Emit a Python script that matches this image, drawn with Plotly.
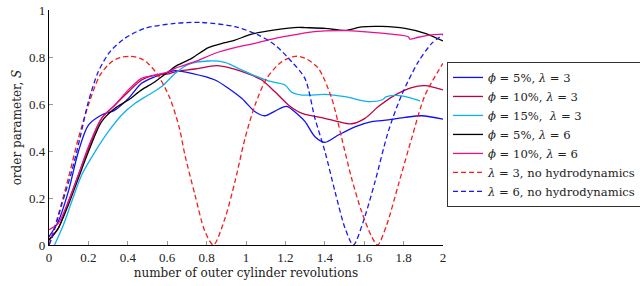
import plotly.graph_objects as go

# phi=5%, lambda=3
x_b3 = [0.0, 0.047, 0.098, 0.149, 0.2, 0.267, 0.335, 0.403, 0.47, 0.538, 0.606, 0.64, 0.724, 0.843, 0.91, 0.978, 1.046, 1.096, 1.147, 1.206, 1.266, 1.3, 1.35, 1.401, 1.469, 1.553, 1.638, 1.722, 1.807, 1.892, 2.0]
y_b3 = [0.035, 0.1, 0.227, 0.397, 0.51, 0.553, 0.574, 0.624, 0.688, 0.716, 0.735, 0.742, 0.73, 0.702, 0.667, 0.624, 0.567, 0.55, 0.57, 0.59, 0.553, 0.525, 0.461, 0.437, 0.468, 0.503, 0.525, 0.532, 0.543, 0.55, 0.536]

# phi=10%, lambda=3
x_c3 = [0.0, 0.047, 0.098, 0.149, 0.2, 0.267, 0.335, 0.403, 0.47, 0.538, 0.606, 0.64, 0.741, 0.851, 0.927, 1.012, 1.08, 1.147, 1.215, 1.266, 1.3, 1.384, 1.469, 1.536, 1.604, 1.672, 1.756, 1.841, 1.909, 2.0]
y_c3 = [0.025, 0.071, 0.184, 0.298, 0.411, 0.539, 0.596, 0.652, 0.702, 0.723, 0.728, 0.737, 0.749, 0.763, 0.752, 0.728, 0.702, 0.652, 0.596, 0.567, 0.556, 0.542, 0.525, 0.516, 0.539, 0.589, 0.638, 0.67, 0.678, 0.66]

# phi=15%, lambda=3
x_s3 = [0.028, 0.073, 0.115, 0.166, 0.234, 0.301, 0.369, 0.437, 0.504, 0.572, 0.64, 0.707, 0.809, 0.893, 0.978, 1.046, 1.113, 1.198, 1.232, 1.283, 1.325, 1.401, 1.503, 1.621, 1.689, 1.714, 1.79, 1.883]
y_s3 = [0.0, 0.085, 0.184, 0.298, 0.397, 0.482, 0.553, 0.603, 0.638, 0.674, 0.73, 0.769, 0.783, 0.777, 0.745, 0.72, 0.698, 0.681, 0.65, 0.638, 0.638, 0.641, 0.631, 0.61, 0.617, 0.631, 0.635, 0.613]

# phi=5%, lambda=6
x_k6 = [0.0, 0.047, 0.098, 0.149, 0.2, 0.267, 0.335, 0.403, 0.47, 0.538, 0.606, 0.64, 0.724, 0.809, 0.893, 0.944, 1.029, 1.147, 1.266, 1.3, 1.401, 1.503, 1.587, 1.689, 1.807, 1.909, 2.0]
y_k6 = [0.02, 0.071, 0.17, 0.284, 0.397, 0.525, 0.582, 0.617, 0.66, 0.695, 0.737, 0.759, 0.794, 0.84, 0.861, 0.872, 0.897, 0.915, 0.926, 0.925, 0.922, 0.913, 0.928, 0.93, 0.922, 0.901, 0.868]

# phi=10%, lambda=6
x_m6 = [0.0, 0.047, 0.098, 0.149, 0.2, 0.267, 0.335, 0.403, 0.47, 0.538, 0.606, 0.64, 0.741, 0.843, 0.944, 1.046, 1.164, 1.266, 1.3, 1.401, 1.52, 1.638, 1.74, 1.824, 1.832, 1.875, 1.943, 2.0]
y_m6 = [0.065, 0.092, 0.184, 0.298, 0.418, 0.539, 0.596, 0.66, 0.709, 0.723, 0.737, 0.752, 0.78, 0.816, 0.84, 0.858, 0.882, 0.897, 0.903, 0.911, 0.912, 0.905, 0.897, 0.886, 0.876, 0.884, 0.894, 0.897]

# lambda=3, no hydrodynamics
x_r3 = [0.0, 0.047, 0.098, 0.149, 0.2, 0.259, 0.318, 0.36, 0.411, 0.46, 0.5, 0.553, 0.614, 0.662, 0.69, 0.741, 0.792, 0.835, 0.893, 0.944, 0.995, 1.046, 1.105, 1.181, 1.25, 1.299, 1.367, 1.435, 1.486, 1.536, 1.587, 1.638, 1.668, 1.714, 1.773, 1.841, 1.909, 2.0]
y_r3 = [0.0, 0.128, 0.284, 0.454, 0.596, 0.723, 0.78, 0.797, 0.803, 0.795, 0.775, 0.723, 0.624, 0.497, 0.383, 0.213, 0.057, 0.0, 0.113, 0.27, 0.454, 0.596, 0.709, 0.78, 0.803, 0.795, 0.752, 0.624, 0.454, 0.284, 0.142, 0.035, 0.0, 0.085, 0.255, 0.454, 0.638, 0.773]

# lambda=6, no hydrodynamics
x_b6 = [0.0, 0.014, 0.064, 0.115, 0.157, 0.2, 0.25, 0.31, 0.386, 0.487, 0.64, 0.775, 0.944, 1.062, 1.147, 1.232, 1.299, 1.35, 1.401, 1.452, 1.503, 1.545, 1.595, 1.655, 1.722, 1.79, 1.875, 1.943, 2.0]
y_b6 = [0.0, 0.028, 0.17, 0.312, 0.454, 0.61, 0.737, 0.823, 0.88, 0.922, 0.943, 0.947, 0.929, 0.894, 0.851, 0.78, 0.709, 0.539, 0.397, 0.227, 0.071, 0.0, 0.099, 0.27, 0.482, 0.638, 0.78, 0.858, 0.895]

x_ticks = [0, 0.2, 0.4, 0.6, 0.8, 1, 1.2, 1.4, 1.6, 1.8, 2]
x_tick_labels = ["0", "0.2", "0.4", "0.6", "0.8", "1", "1.2", "1.4", "1.6", "1.8", "2"]
y_ticks = [0, 0.2, 0.4, 0.6, 0.8, 1]
y_tick_labels = ["0", "0.2", "0.4", "0.6", "0.8", "1"]

series = [
    (x_b3, y_b3, "<i>ϕ</i> = 5%, <i>λ</i> = 3", "#1010f0", "solid"),
    (x_c3, y_c3, "<i>ϕ</i> = 10%, <i>λ</i> = 3", "#c00040", "solid"),
    (x_s3, y_s3, "<i>ϕ</i> = 15%,  <i>λ</i> = 3", "#10b0ee", "solid"),
    (x_k6, y_k6, "<i>ϕ</i> = 5%, <i>λ</i> = 6", "#000000", "solid"),
    (x_m6, y_m6, "<i>ϕ</i> = 10%, <i>λ</i> = 6", "#e8108c", "solid"),
    (x_r3, y_r3, "<i>λ</i> = 3, no hydrodynamics", "#f02020", "5px,3px"),
    (x_b6, y_b6, "<i>λ</i> = 6, no hydrodynamics", "#1a1af0", "5px,3px"),
]

fig = go.Figure()
for xs, ys, name, color, dash in series:
    fig.add_trace(go.Scatter(
        x=xs, y=ys, mode="lines", name=name,
        line=dict(color=color, width=1.3, dash=dash, shape="spline", smoothing=0.8),
    ))

tick_font = "Liberation Serif, DejaVu Serif, serif"
text_font = "DejaVu Serif, Liberation Serif, serif"
fig.update_layout(
    template="none",
    width=640, height=286,
    margin=dict(l=49, r=197, t=10, b=41, autoexpand=False),
    paper_bgcolor="white", plot_bgcolor="white",
    font=dict(family=text_font, size=12, color="#222"),
    showlegend=True,
    legend=dict(
        x=1.0102, y=0.779, xanchor="left", yanchor="top",
        bordercolor="#333", borderwidth=1, bgcolor="white",
        font=dict(family=text_font, size=11.6, color="#222"),
        tracegroupgap=0, itemwidth=30,
    ),
    xaxis=dict(
        range=[0, 2], tickvals=x_ticks, ticktext=x_tick_labels, automargin=False,
        showgrid=False, zeroline=False, showline=True, linecolor="black", linewidth=1.2,
        ticks="inside", ticklen=4, tickcolor="#999", ticklabeloverflow="allow",
        title=dict(text="number of outer cylinder revolutions", standoff=4,
                   font=dict(family=text_font, size=12)),
        tickfont=dict(family=tick_font, size=13),
    ),
    yaxis=dict(
        range=[0, 1], tickvals=y_ticks, ticktext=y_tick_labels, automargin=False,
        showgrid=False, zeroline=False, showline=True, linecolor="black", linewidth=1.2,
        ticks="inside", ticklen=4, tickcolor="#999", ticklabeloverflow="allow",
        title=dict(text="order parameter, <i>S</i>", standoff=4,
                   font=dict(family=text_font, size=12)),
        tickfont=dict(family=tick_font, size=13),
    ),
)

fig.write_html("out.html", config={"displayModeBar": False},
               post_script="document.body.style.margin='0px';")
